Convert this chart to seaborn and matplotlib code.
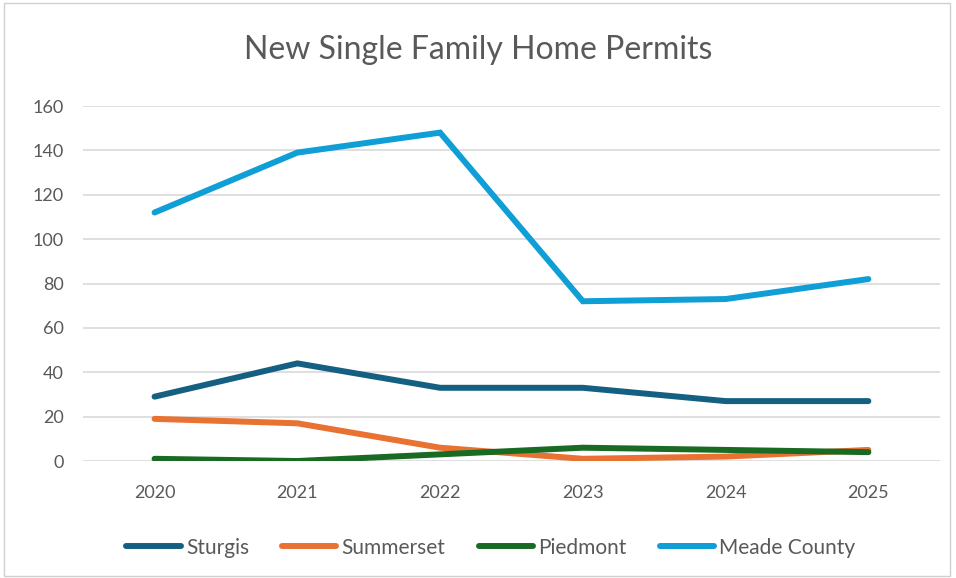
import numpy as np
import pandas as pd
import matplotlib
matplotlib.use("Agg")
import matplotlib.pyplot as plt
from matplotlib.patches import Rectangle
import seaborn as sns

sns.set_style("white")
plt.rcParams['font.family'] = ['Lato', 'DejaVu Sans']

# data
years = ['2020', '2021', '2022', '2023', '2024', '2025']
sturgis = [29, 44, 33, 33, 27, 27]
summerset = [19, 17, 6, 1, 2, 5]
piedmont = [1, 0, 3, 6, 5, 4]
meade = [112, 139, 148, 72, 73, 82]

series = ['Sturgis', 'Summerset', 'Piedmont', 'Meade County']
colors = ['#156082', '#E97132', '#196B24', '#0F9ED5']

df = pd.DataFrame({
    'year': years * 4,
    'permits': sturgis + summerset + piedmont + meade,
    'place': np.repeat(series, len(years)),
})

fig = plt.figure(figsize=(9.56, 5.78), dpi=100)
ax = fig.add_axes([0.087, 0.2024, 0.896, 0.6142])

sns.lineplot(data=df, x='year', y='permits', hue='place', hue_order=series,
             palette=colors, linewidth=4.3, ax=ax, sort=False)
for ln in ax.lines:
    ln.set_solid_capstyle('round')
    ln.set_solid_joinstyle('miter')

ax.set_xlim(-0.5, 5.5)
ax.set_ylim(0, 160)
ax.set_yticks(range(0, 161, 20))
ax.grid(axis='y', color='#d9d9d9', linewidth=1.2)
ax.set_axisbelow(True)
for s in ax.spines.values():
    s.set_visible(False)
ax.set_xlabel('')
ax.set_ylabel('')
ax.tick_params(axis='both', length=0, labelsize=13, colors='#595959')
ax.tick_params(axis='y', pad=14)
ax.tick_params(axis='x', pad=17)

fig.suptitle('New Single Family Home Permits', y=0.913, va='center',
             fontsize=23, color='#595959')

ax.legend(loc='upper center', bbox_to_anchor=(0.476, -0.163), ncol=4,
          frameon=False, fontsize=15, labelcolor='#595959',
          handlelength=2.6, handletextpad=0.25, columnspacing=1.6)

fig.patches.append(Rectangle((0.004, 0.004), 0.99, 0.99, transform=fig.transFigure,
                             fill=False, edgecolor='#d0d0d0', linewidth=1))

fig.savefig('out.png', dpi=100)
